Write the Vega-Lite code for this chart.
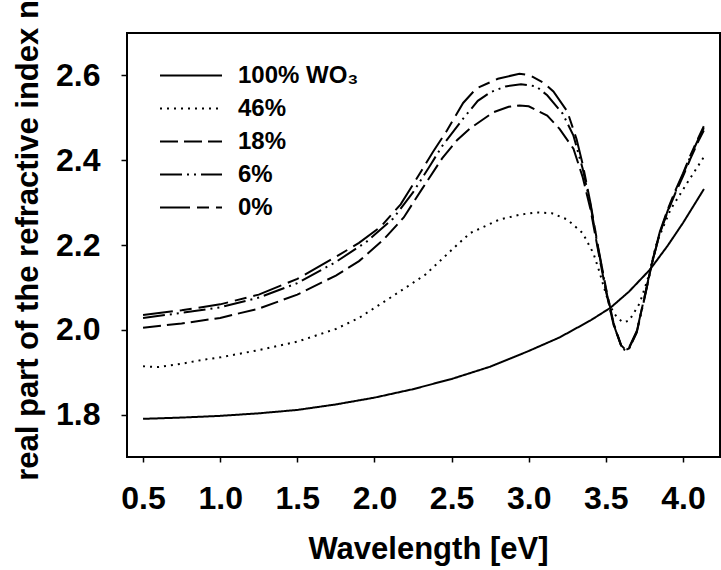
{
  "$schema": "https://vega.github.io/schema/vega-lite/v6.json",
  "width": 593,
  "height": 424,
  "autosize": {"type": "none"},
  "padding": {"left": 127, "top": 33, "right": 1, "bottom": 113},
  "background": "white",
  "config": {"view": {"stroke": "black", "strokeWidth": 2}, "font": "Liberation Sans"},
  "data": {"values": [
    {"s": "100% WO₃", "e": 0.5, "n": 1.790}, {"s": "100% WO₃", "e": 0.75, "n": 1.793}, {"s": "100% WO₃", "e": 1.0, "n": 1.797}, {"s": "100% WO₃", "e": 1.25, "n": 1.803}, {"s": "100% WO₃", "e": 1.5, "n": 1.811}, {"s": "100% WO₃", "e": 1.75, "n": 1.824}, {"s": "100% WO₃", "e": 2.0, "n": 1.840}, {"s": "100% WO₃", "e": 2.25, "n": 1.860}, {"s": "100% WO₃", "e": 2.5, "n": 1.884}, {"s": "100% WO₃", "e": 2.75, "n": 1.913}, {"s": "100% WO₃", "e": 3.0, "n": 1.950}, {"s": "100% WO₃", "e": 3.2, "n": 1.982}, {"s": "100% WO₃", "e": 3.4, "n": 2.022}, {"s": "100% WO₃", "e": 3.53, "n": 2.052}, {"s": "100% WO₃", "e": 3.65, "n": 2.090}, {"s": "100% WO₃", "e": 3.786, "n": 2.142}, {"s": "100% WO₃", "e": 3.9, "n": 2.198}, {"s": "100% WO₃", "e": 4.0, "n": 2.252}, {"s": "100% WO₃", "e": 4.136, "n": 2.332},

    {"s": "46%", "e": 0.5, "n": 1.914}, {"s": "46%", "e": 0.6, "n": 1.912}, {"s": "46%", "e": 0.75, "n": 1.920}, {"s": "46%", "e": 0.9, "n": 1.930}, {"s": "46%", "e": 1.0, "n": 1.935}, {"s": "46%", "e": 1.25, "n": 1.952}, {"s": "46%", "e": 1.5, "n": 1.972}, {"s": "46%", "e": 1.75, "n": 2.002}, {"s": "46%", "e": 1.9, "n": 2.028}, {"s": "46%", "e": 2.1, "n": 2.075}, {"s": "46%", "e": 2.33, "n": 2.130}, {"s": "46%", "e": 2.535, "n": 2.200}, {"s": "46%", "e": 2.62, "n": 2.228}, {"s": "46%", "e": 2.81, "n": 2.260}, {"s": "46%", "e": 2.95, "n": 2.272}, {"s": "46%", "e": 3.05, "n": 2.277}, {"s": "46%", "e": 3.15, "n": 2.275}, {"s": "46%", "e": 3.25, "n": 2.260}, {"s": "46%", "e": 3.35, "n": 2.228}, {"s": "46%", "e": 3.42, "n": 2.180}, {"s": "46%", "e": 3.46, "n": 2.135}, {"s": "46%", "e": 3.5, "n": 2.085}, {"s": "46%", "e": 3.53, "n": 2.054}, {"s": "46%", "e": 3.57, "n": 2.030}, {"s": "46%", "e": 3.61, "n": 2.018}, {"s": "46%", "e": 3.65, "n": 2.021}, {"s": "46%", "e": 3.72, "n": 2.063}, {"s": "46%", "e": 3.77, "n": 2.118}, {"s": "46%", "e": 3.83, "n": 2.206}, {"s": "46%", "e": 3.92, "n": 2.284}, {"s": "46%", "e": 4.03, "n": 2.348}, {"s": "46%", "e": 4.136, "n": 2.408},

    {"s": "18%", "e": 0.5, "n": 2.005}, {"s": "18%", "e": 0.75, "n": 2.015}, {"s": "18%", "e": 1.0, "n": 2.028}, {"s": "18%", "e": 1.25, "n": 2.050}, {"s": "18%", "e": 1.5, "n": 2.083}, {"s": "18%", "e": 1.75, "n": 2.128}, {"s": "18%", "e": 1.9, "n": 2.162}, {"s": "18%", "e": 2.06, "n": 2.213}, {"s": "18%", "e": 2.19, "n": 2.265}, {"s": "18%", "e": 2.31, "n": 2.333}, {"s": "18%", "e": 2.44, "n": 2.405}, {"s": "18%", "e": 2.535, "n": 2.447}, {"s": "18%", "e": 2.62, "n": 2.475}, {"s": "18%", "e": 2.77, "n": 2.513}, {"s": "18%", "e": 2.87, "n": 2.526}, {"s": "18%", "e": 2.94, "n": 2.529}, {"s": "18%", "e": 3.0, "n": 2.527}, {"s": "18%", "e": 3.12, "n": 2.505}, {"s": "18%", "e": 3.2, "n": 2.474}, {"s": "18%", "e": 3.29, "n": 2.427}, {"s": "18%", "e": 3.35, "n": 2.360}, {"s": "18%", "e": 3.4, "n": 2.285}, {"s": "18%", "e": 3.45, "n": 2.187}, {"s": "18%", "e": 3.5, "n": 2.092}, {"s": "18%", "e": 3.55, "n": 2.012}, {"s": "18%", "e": 3.6, "n": 1.963}, {"s": "18%", "e": 3.625, "n": 1.954}, {"s": "18%", "e": 3.65, "n": 1.958}, {"s": "18%", "e": 3.7, "n": 1.997}, {"s": "18%", "e": 3.75, "n": 2.075}, {"s": "18%", "e": 3.8, "n": 2.158}, {"s": "18%", "e": 3.85, "n": 2.228}, {"s": "18%", "e": 3.9, "n": 2.278}, {"s": "18%", "e": 3.95, "n": 2.322}, {"s": "18%", "e": 4.0, "n": 2.362}, {"s": "18%", "e": 4.05, "n": 2.405}, {"s": "18%", "e": 4.1, "n": 2.445}, {"s": "18%", "e": 4.135, "n": 2.470},

    {"s": "6%", "e": 0.5, "n": 2.028}, {"s": "6%", "e": 0.75, "n": 2.040}, {"s": "6%", "e": 1.0, "n": 2.053}, {"s": "6%", "e": 1.25, "n": 2.076}, {"s": "6%", "e": 1.5, "n": 2.110}, {"s": "6%", "e": 1.75, "n": 2.160}, {"s": "6%", "e": 1.95, "n": 2.208}, {"s": "6%", "e": 2.12, "n": 2.262}, {"s": "6%", "e": 2.25, "n": 2.324}, {"s": "6%", "e": 2.36, "n": 2.387}, {"s": "6%", "e": 2.44, "n": 2.434}, {"s": "6%", "e": 2.575, "n": 2.498}, {"s": "6%", "e": 2.67, "n": 2.540}, {"s": "6%", "e": 2.75, "n": 2.560}, {"s": "6%", "e": 2.85, "n": 2.574}, {"s": "6%", "e": 2.95, "n": 2.579}, {"s": "6%", "e": 3.05, "n": 2.574}, {"s": "6%", "e": 3.12, "n": 2.553}, {"s": "6%", "e": 3.22, "n": 2.510}, {"s": "6%", "e": 3.29, "n": 2.458}, {"s": "6%", "e": 3.35, "n": 2.380}, {"s": "6%", "e": 3.4, "n": 2.295}, {"s": "6%", "e": 3.45, "n": 2.192}, {"s": "6%", "e": 3.5, "n": 2.096}, {"s": "6%", "e": 3.55, "n": 2.013}, {"s": "6%", "e": 3.6, "n": 1.961}, {"s": "6%", "e": 3.625, "n": 1.951}, {"s": "6%", "e": 3.65, "n": 1.955}, {"s": "6%", "e": 3.7, "n": 1.993}, {"s": "6%", "e": 3.75, "n": 2.073}, {"s": "6%", "e": 3.8, "n": 2.158}, {"s": "6%", "e": 3.85, "n": 2.229}, {"s": "6%", "e": 3.9, "n": 2.280}, {"s": "6%", "e": 3.95, "n": 2.325}, {"s": "6%", "e": 4.0, "n": 2.366}, {"s": "6%", "e": 4.05, "n": 2.410}, {"s": "6%", "e": 4.1, "n": 2.450}, {"s": "6%", "e": 4.135, "n": 2.476},

    {"s": "0%", "e": 0.5, "n": 2.035}, {"s": "0%", "e": 0.75, "n": 2.046}, {"s": "0%", "e": 1.0, "n": 2.060}, {"s": "0%", "e": 1.25, "n": 2.083}, {"s": "0%", "e": 1.5, "n": 2.120}, {"s": "0%", "e": 1.75, "n": 2.172}, {"s": "0%", "e": 1.9, "n": 2.205}, {"s": "0%", "e": 2.04, "n": 2.243}, {"s": "0%", "e": 2.17, "n": 2.296}, {"s": "0%", "e": 2.3, "n": 2.372}, {"s": "0%", "e": 2.38, "n": 2.420}, {"s": "0%", "e": 2.47, "n": 2.470}, {"s": "0%", "e": 2.575, "n": 2.535}, {"s": "0%", "e": 2.66, "n": 2.569}, {"s": "0%", "e": 2.8, "n": 2.592}, {"s": "0%", "e": 2.94, "n": 2.604}, {"s": "0%", "e": 3.01, "n": 2.600}, {"s": "0%", "e": 3.1, "n": 2.582}, {"s": "0%", "e": 3.16, "n": 2.562}, {"s": "0%", "e": 3.25, "n": 2.515}, {"s": "0%", "e": 3.31, "n": 2.450}, {"s": "0%", "e": 3.35, "n": 2.390}, {"s": "0%", "e": 3.4, "n": 2.300}, {"s": "0%", "e": 3.45, "n": 2.195}, {"s": "0%", "e": 3.5, "n": 2.100}, {"s": "0%", "e": 3.55, "n": 2.016}, {"s": "0%", "e": 3.6, "n": 1.962}, {"s": "0%", "e": 3.625, "n": 1.952}, {"s": "0%", "e": 3.65, "n": 1.956}, {"s": "0%", "e": 3.7, "n": 1.995}, {"s": "0%", "e": 3.75, "n": 2.077}, {"s": "0%", "e": 3.8, "n": 2.160}, {"s": "0%", "e": 3.85, "n": 2.231}, {"s": "0%", "e": 3.9, "n": 2.283}, {"s": "0%", "e": 3.95, "n": 2.328}, {"s": "0%", "e": 4.0, "n": 2.369}, {"s": "0%", "e": 4.05, "n": 2.413}, {"s": "0%", "e": 4.1, "n": 2.453}, {"s": "0%", "e": 4.135, "n": 2.480}
  ]},
  "mark": {"type": "line", "strokeWidth": 2, "color": "black", "clip": true},
  "encoding": {
    "x": {
      "field": "e", "type": "quantitative",
      "scale": {"domain": [0.396, 4.24], "nice": false, "zero": false},
      "axis": {
        "values": [0.5, 1.0, 1.5, 2.0, 2.5, 3.0, 3.5, 4.0], "format": ".1f",
        "domain": false, "grid": false, "tickSize": 5, "tickWidth": 1.5, "tickColor": "black",
        "labelFont": "Liberation Sans", "labelFontSize": 32, "labelFontWeight": "bold", "labelColor": "black",
        "labelBaseline": "alphabetic", "labelPadding": 46, "labelFlush": false, "labelOverlap": false,
        "title": "Wavelength [eV]", "titleFont": "Liberation Sans", "titleFontSize": 31, "titleFontWeight": "bold",
        "titleColor": "black", "titleBaseline": "alphabetic", "titleAlign": "center", "titleX": 301, "titleY": 101
      }
    },
    "y": {
      "field": "n", "type": "quantitative",
      "scale": {"domain": [1.7, 2.7], "nice": false, "zero": false},
      "axis": {
        "values": [1.8, 2.0, 2.2, 2.4, 2.6], "format": ".1f",
        "domain": false, "grid": false, "tickSize": 6, "tickWidth": 1.5, "tickColor": "black",
        "labelFont": "Liberation Sans", "labelFontSize": 32, "labelFontWeight": "bold", "labelColor": "black",
        "labelPadding": 21, "labelOverlap": false,
        "title": "real part of the refractive index n", "titleFont": "Liberation Sans", "titleFontSize": 31,
        "titleFontWeight": "bold", "titleColor": "black", "titleAngle": -90, "titleBaseline": "alphabetic",
        "titleAlign": "center", "titleX": -90, "titleY": 207
      }
    },
    "strokeDash": {
      "field": "s", "type": "nominal",
      "scale": {
        "domain": ["100% WO₃", "46%", "18%", "6%", "0%"],
        "range": [[1, 0], [2, 5], [18, 6], [22, 5, 2, 5, 2, 5], [30, 7, 12, 7]]
      },
      "legend": {
        "orient": "none", "legendX": 32, "legendY": 26, "title": null,
        "symbolType": "stroke", "symbolSize": 3844, "symbolStrokeWidth": 2, "symbolStrokeColor": "black",
        "labelFont": "Liberation Sans", "labelFontSize": 24, "labelFontWeight": "bold", "labelColor": "black",
        "labelOffset": 15, "rowPadding": 0, "clipHeight": 33, "padding": 0, "labelLimit": 400
      }
    }
  }
}
